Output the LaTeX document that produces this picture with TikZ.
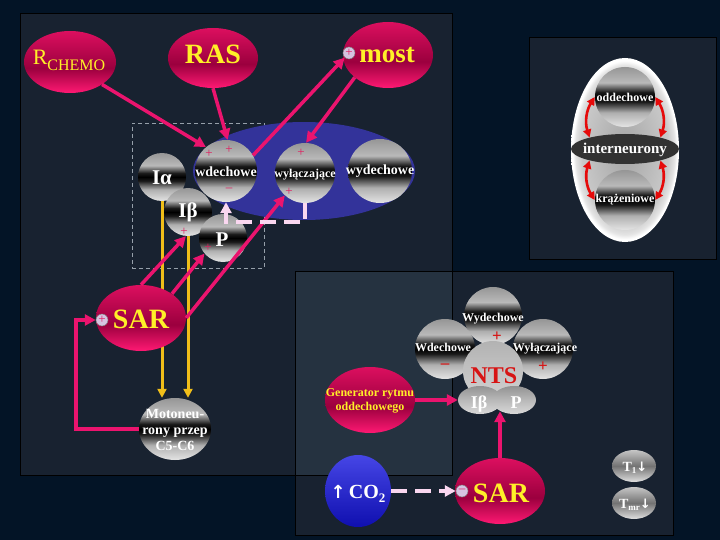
\documentclass[tikz,border=0pt]{standalone}
\usepackage{fontspec}
\setmainfont{Liberation Serif}
\newfontfamily\arrfont{DejaVu Sans}
\usetikzlibrary{shapes.geometric,arrows.meta}
\newcommand\myfs[1]{\fontsize{#1}{#1}\selectfont}
\definecolor{bgc}{RGB}{3,20,38}
\definecolor{panelc}{RGB}{24,34,48}
\definecolor{overc}{RGB}{37,50,64}
\definecolor{pinkc}{RGB}{235,20,110}
\definecolor{yelc}{RGB}{240,190,25}
\definecolor{palec}{RGB}{250,215,240}
\definecolor{redc}{RGB}{230,10,10}
\definecolor{crim}{RGB}{225,30,95}
\definecolor{txtyel}{RGB}{255,240,40}
\definecolor{bluec}{RGB}{51,51,154}
\definecolor{lilac}{RGB}{215,195,225}
\definecolor{interc}{RGB}{50,50,50}
\definecolor{ntsred}{RGB}{215,20,20}
\definecolor{dashc}{RGB}{150,160,170}
\definecolor{bA}{RGB}{228,228,228}
\definecolor{bB}{RGB}{175,175,175}
\definecolor{bC}{RGB}{25,25,25}
\definecolor{bD}{RGB}{185,185,185}
\definecolor{bE}{RGB}{150,150,150}
\definecolor{pA}{RGB}{255,25,115}
\definecolor{pB}{RGB}{155,0,62}
\definecolor{pC}{RGB}{220,15,95}
\definecolor{rimin}{RGB}{165,165,165}
\definecolor{rimmid}{RGB}{200,200,200}
\definecolor{rimhi}{RGB}{228,228,228}
\definecolor{co2top}{RGB}{70,70,230}
\definecolor{co2bot}{RGB}{15,15,175}
\pgfdeclareverticalshading{ballsh}{100bp}{color(0bp)=(bA); color(25bp)=(bA); color(37bp)=(bB); color(46bp)=(bC); color(50bp)=(black); color(54bp)=(bC); color(62bp)=(bD); color(75bp)=(bE); color(100bp)=(bE)}
\pgfdeclareverticalshading{pinksh}{100bp}{color(0bp)=(pA); color(25bp)=(pA); color(45bp)=(pB); color(75bp)=(pC); color(100bp)=(pC)}
\pgfdeclareradialshading{rimsh}{\pgfpoint{0bp}{0bp}}{color(0bp)=(rimin); color(20bp)=(rimmid); color(23bp)=(rimhi); color(24.3bp)=(white); color(50bp)=(white)}
\tikzset{
  ballsty/.style={shading=ballsh, shade, inner sep=0pt, draw=none},
  pinkell/.style={ellipse, shading=pinksh, shade, inner sep=0pt, minimum width=90pt, minimum height=66pt},
  lbl/.style={text=white, inner sep=0pt, font=\bfseries\myfs{14}},
  ytxt/.style={text=txtyel, inner sep=0pt, font=\bfseries\myfs{28}, anchor=base},
  parr/.style={draw=pinkc, line width=3.5pt, -{Triangle[length=11pt,width=11pt]}},
  yarr/.style={draw=yelc, line width=3pt, -{Triangle[length=9pt,width=9pt]}},
  darr/.style={draw=palec, line width=4pt, dash pattern=on 16pt off 8pt, -{Triangle[length=11pt,width=11pt]}},
  rarr/.style={draw=redc, line width=2.6pt, {Triangle[length=8pt,width=8pt]}-{Triangle[length=8pt,width=8pt]}},
  pmsty/.style={circle, fill=lilac, draw=gray, line width=0.5pt, minimum size=12pt, inner sep=0pt, text=crim, font=\myfs{13}},
  sgn/.style={text=crim, inner sep=0pt, font=\myfs{13}},
  bsgn/.style={text=ntsred, inner sep=0pt, font=\bfseries\myfs{17}},
}
\begin{document}
\begin{tikzpicture}[x=1pt,y=-1pt]
% background and panels
\fill[bgc] (0,0) rectangle (720,540);
\fill[panelc] (20,13) rectangle (452,475);
\fill[panelc] (529,37) rectangle (716,259);
\fill[panelc] (295,271) rectangle (673,535);
\fill[overc] (295,271) rectangle (452,475);
\draw[black, line width=0.8pt] (20,13) rectangle (452,475) (529,37) rectangle (716,259) (295,271) rectangle (673,535);

% ---------- left panel ----------
\node[pinkell, minimum width=92pt, minimum height=62pt] (rchemo) at (70,62) {};
\node[pinkell, minimum height=60pt] (ras) at (213,58) {};
\node[pinkell] (most) at (388,55) {};
\node[pmsty] (mostplus) at (349,53) {+};

\node[draw=dashc, dash pattern=on 4pt off 3pt, line width=0.7pt, minimum width=132pt, minimum height=145pt, inner sep=0pt] (grp) at (198,195.5) {};
\node[ellipse, fill=bluec, minimum width=222pt, minimum height=98pt, inner sep=0pt] (blue) at (304,171) {};

\node[ballsty, circle, minimum size=48pt] (ia) at (162,177) {};
\node[ballsty, circle, minimum size=62pt] (wdech) at (226,171) {};
\node[ballsty, circle, minimum size=60pt] (wyl) at (305,173) {};
\node[ballsty, circle, minimum size=64pt] (wydech) at (380,171) {};
\node[ballsty, circle, minimum size=48pt] (ib) at (188,212) {};
\node[ballsty, circle, minimum size=48pt] (pp) at (223,238) {};

% yellow lines (behind SAR)
\node[ballsty, ellipse, minimum width=72pt, minimum height=62pt] (moto) at (175,429) {};
\draw[yarr] (ia.south) -- (ia.south |- moto.north);
\draw[yarr] (ib.south) -- (ib.south |- moto.north);

\node[pinkell] (sar) at (141,318) {};
\node[pmsty] (sarp) at (102,320) {+};

% pink arrows
\draw[parr] (rchemo.-35) -- (wdech.130);
\draw[parr] (ras.south) -- (wdech.87);
\draw[parr] (wdech.30) -- (mostplus);
\draw[parr] (most.214) -- (wyl.88);
\draw[parr] (sar.north) -- (ib.265);
\draw[parr] (sar.38) -- (pp.220);
\draw[parr] (sar.east) -- (wyl.228);
\draw[parr] (moto.west) -| ([xshift=-20pt]sarp.west) -- (sarp.west);

% pale dashed feedback
\draw[darr] (wyl.south) |- ([yshift=-20pt]wdech.south) -- (wdech.south);

% signs
\node[sgn] (s1) at (209,154) {+};
\node[sgn] (s2) at (229,150) {+};
\node[sgn] (s3) at (229,190) {–};
\node[sgn] (s4) at (301,153) {+};
\node[sgn] (s5) at (289,192) {+};
\node[sgn] (s6) at (184,232) {+};
\node[sgn] (s7) at (208,248) {+};

% labels
\node[text=txtyel, inner sep=0pt, anchor=base] (rchemot) at (69,65) {\myfs{22}R\raisebox{-6pt}{\myfs{16}CHEMO}};
\node[ytxt] (rast) at (213,64) {RAS};
\node[ytxt, font=\bfseries\myfs{27}] (mostt) at (387,63) {most};
\node[ytxt] (sart) at (141,328) {SAR};
\node[lbl, anchor=base] (wdecht) at (226,177) {wdechowe};
\node[lbl, anchor=base, font=\bfseries\myfs{12}] (wylt) at (305,178) {wyłączające};
\node[lbl, anchor=base] (wydecht) at (380,175) {wydechowe};
\node[lbl, anchor=base, font=\bfseries\myfs{21}] (iat) at (162,185) {Iα};
\node[lbl, anchor=base, font=\bfseries\myfs{21}] (ibt) at (188,218) {Iβ};
\node[lbl, anchor=base, font=\bfseries\myfs{21}] (ppt) at (222,246) {P};
\node[lbl, align=center, font=\bfseries\fontsize{14}{16}\selectfont] (motot) at (175,430) {Motoneu-\\rony przep\\C5-C6};

% ---------- right panel ----------
\node[ellipse, shading=rimsh, shade, minimum width=108pt, minimum height=184pt, inner sep=0pt] (rim) at (625,150) {};
\node[ballsty, circle, minimum size=60pt] (odd) at (625,97) {};
\node[ballsty, circle, minimum size=60pt] (kraz) at (625,200) {};
\node[ellipse, fill=interc, minimum width=108pt, minimum height=30pt, inner sep=0pt] (inter) at (625,149) {};
\draw[rarr] (odd.west) to[bend right=25] (inter.162);
\draw[rarr] (odd.east) to[bend left=25] (inter.18);
\draw[rarr] (inter.198) to[bend right=25] (kraz.west);
\draw[rarr] (inter.-18) to[bend left=25] (kraz.east);
\node[lbl, anchor=base, font=\bfseries\myfs{12}] (oddt) at (625,102) {oddechowe};
\node[lbl, anchor=base, font=\bfseries\myfs{15}] (intert) at (625,154) {interneurony};
\node[lbl, anchor=base, font=\bfseries\myfs{12}] (krazt) at (625,203) {krążeniowe};

% ---------- bottom right panel ----------
\node[pinkell] (gen) at (370,400) {};
\node[ellipse, shade, top color=co2top, bottom color=co2bot, minimum width=66pt, minimum height=72pt, inner sep=0pt] (co2) at (358,491) {};
\node[pinkell] (sar2) at (500,491) {};
\node[pmsty] (sar2m) at (462,491) {–};

\node[ballsty, circle, minimum size=58pt] (nwyd) at (493,316) {};
\node[ballsty, circle, minimum size=60pt] (nwd) at (445,349) {};
\node[ballsty, circle, minimum size=60pt] (nwyl) at (543,349) {};
\node[circle, shade, top color=gray!60!white, bottom color=gray!35!white, minimum size=60pt, inner sep=0pt] (nts) at (493,371) {};
\node[ellipse, shade, top color=gray!85!white, bottom color=gray!30!white, middle color=gray!55!white, minimum width=44pt, minimum height=28pt, inner sep=0pt] (ib2) at (480,400) {};
\node[ellipse, shade, top color=gray!85!white, bottom color=gray!30!white, middle color=gray!55!white, minimum width=44pt, minimum height=28pt, inner sep=0pt] (p2) at (514,400) {};

\node[ellipse, shade, top color=gray!45!white, bottom color=gray!25!white, middle color=gray!90!black, minimum width=44pt, minimum height=32pt, inner sep=0pt] (t1) at (634,466) {};
\node[ellipse, shade, top color=gray!45!white, bottom color=gray!25!white, middle color=gray!90!black, minimum width=44pt, minimum height=32pt, inner sep=0pt] (tmr) at (634,503) {};

\draw[parr] (gen.east) -- (ib2.west);
\draw[parr] (sar2.north) -- ([yshift=3pt]sar2.north |- ib2.south);
\draw[darr] (co2.east) -- (sar2m.west);

\node[lbl, anchor=base, font=\bfseries\myfs{12}] (nwydt) at (493,321) {Wydechowe};
\node[lbl, anchor=base, font=\bfseries\myfs{12}] (nwdt) at (443,351) {Wdechowe};
\node[lbl, anchor=base, font=\bfseries\myfs{12}] (nwylt) at (545,351) {Wyłączające};
\node[bsgn] (ns1) at (497,337) {+};
\node[bsgn] (ns2) at (445,366) {–};
\node[bsgn] (ns3) at (543,367) {+};
\node[text=ntsred, inner sep=0pt, anchor=base, font=\bfseries\myfs{24}] (ntst) at (494,383) {NTS};
\node[lbl, anchor=base, font=\bfseries\myfs{18}] (ib2t) at (479,408) {Iβ};
\node[lbl, anchor=base, font=\bfseries\myfs{18}] (p2t) at (516,408) {P};
\node[text=txtyel, inner sep=0pt, align=center, font=\bfseries\fontsize{12}{14}\selectfont] (gent) at (370,401) {Generator rytmu\\oddechowego};
\node[text=white, inner sep=0pt, anchor=base, font=\bfseries\myfs{20}] (co2t) at (358,498) {{\arrfont\myfs{18}↑}\,CO\raisebox{-4pt}{\myfs{13}2}};
\node[ytxt] (sar2t) at (501,502) {SAR};
\node[text=white, inner sep=0pt, anchor=base, font=\bfseries\myfs{14}] (t1t) at (635,471) {T\raisebox{-2pt}{\myfs{9}1}{\arrfont\myfs{13}↓}};
\node[text=white, inner sep=0pt, anchor=base, font=\bfseries\myfs{14}] (tmrt) at (635,508) {T\raisebox{-2pt}{\myfs{9}mr}{\arrfont\myfs{13}↓}};
\end{tikzpicture}
\end{document}
